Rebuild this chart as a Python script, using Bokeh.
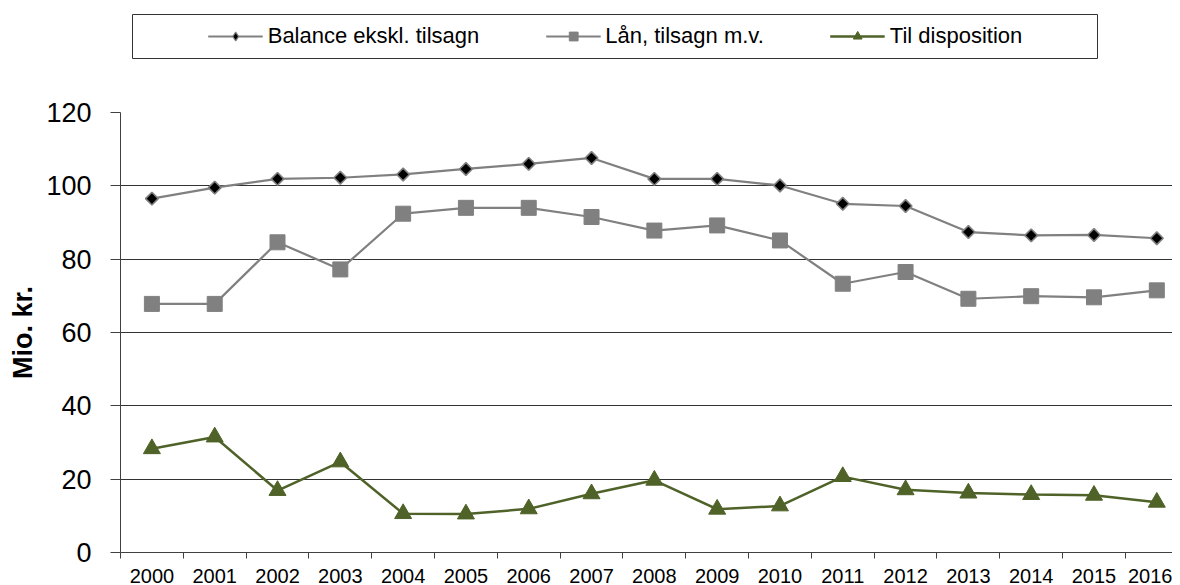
import numpy as np
from bokeh.plotting import figure
from bokeh.models import Range1d, FixedTicker, Legend, LegendItem, Grid, Spacer
from bokeh.layouts import column, row
from bokeh.embed import file_html
from bokeh.resources import INLINE

# ---- data ----
years = ["2000", "2001", "2002", "2003", "2004", "2005", "2006", "2007", "2008",
         "2009", "2010", "2011", "2012", "2013", "2014", "2015", "2016"]
balance = [96.5, 99.5, 101.9, 102.2, 103.1, 104.6, 106.0, 107.6, 101.9,
           101.9, 100.1, 95.1, 94.5, 87.4, 86.5, 86.6, 85.7]
laan = [67.8, 67.8, 84.6, 77.2, 92.4, 94.0, 94.0, 91.5, 87.8,
        89.2, 85.1, 73.3, 76.5, 69.2, 69.9, 69.6, 71.5]
til_disp = [28.3, 31.5, 16.9, 24.7, 10.6, 10.5, 11.9, 16.0, 19.7,
            11.8, 12.7, 20.7, 17.1, 16.2, 15.8, 15.6, 13.7]
series_names = ["Balance ekskl. tilsagn", "Lån, tilsagn m.v.", "Til disposition"]
y_ticks = [0, 20, 40, 60, 80, 100, 120]
y_title = "Mio. kr."

FONT = "Liberation Sans"
GRAY = "#808080"
OLIVE = "#4F6228"
AXIS = "#404040"

# category centres on a numeric scale (one unit per year)
xs = np.arange(len(years)) + 0.5
bounds = list(range(len(years) + 1))


def add_series(fig, x, for_legend=False):
    a = fig.line(x, balance, line_color=GRAY, line_width=2.2)
    if for_legend:
        b = fig.scatter(x, balance, marker="diamond", size=14,
                        fill_color="black", line_color=GRAY, line_width=1.2)
    else:
        b = fig.scatter(x, balance, marker="square", angle=np.pi / 4, size=9,
                        fill_color="black", line_color=GRAY, line_width=1.6)
    c = fig.line(x, laan, line_color=GRAY, line_width=2.2)
    d = fig.scatter(x, laan, marker="square", size=15, fill_color=GRAY, line_color=GRAY)
    e = fig.line(x, til_disp, line_color=OLIVE, line_width=2.5)
    f = fig.scatter(x, til_disp, marker="triangle", size=17, fill_color=OLIVE, line_color=OLIVE)
    return [(a, b), (c, d), (e, f)]


p = figure(frame_width=1052, frame_height=440,
           x_range=Range1d(0, 16.75), y_range=Range1d(0, 120),
           min_border_left=120, min_border_right=0, min_border_top=44, min_border_bottom=0,
           toolbar_location=None, output_backend="svg", outline_line_color=None,
           background_fill_color="white", border_fill_color="white")
add_series(p, xs)

# x axis: labels at centres, tick marks at category boundaries
xa = p.xaxis[0]
xa.ticker = FixedTicker(ticks=list(xs), minor_ticks=bounds)
xa.major_label_overrides = {float(x): y for x, y in zip(xs, years)}
xa.major_tick_out = 0
xa.major_tick_in = 0
xa.minor_tick_out = 6
xa.minor_tick_in = 0
xa.minor_tick_line_color = AXIS
xa.axis_line_color = AXIS
xa.major_label_text_font = FONT
xa.major_label_text_font_size = "20px"
xa.major_label_text_color = "black"
xa.major_label_standoff = 10

ya = p.yaxis[0]
ya.ticker = FixedTicker(ticks=y_ticks)
ya.major_tick_out = 10
ya.major_tick_in = 0
ya.minor_tick_line_color = None
ya.major_tick_line_color = AXIS
ya.axis_line_color = AXIS
ya.major_label_text_font = FONT
ya.major_label_text_font_size = "27px"
ya.major_label_text_color = "black"
ya.major_label_standoff = 19
ya.axis_label = y_title
ya.axis_label_text_font = FONT
ya.axis_label_text_font_size = "27px"
ya.axis_label_text_font_style = "bold"
ya.axis_label_text_color = "black"
ya.axis_label_standoff = 5

p.xgrid.visible = False
p.ygrid.ticker = FixedTicker(ticks=y_ticks[1:-1])
p.ygrid.grid_line_color = "#333333"
p.ygrid.grid_line_width = 1
p.add_layout(Grid(dimension=1, ticker=FixedTicker(ticks=y_ticks[-1:]),
                  grid_line_color="#c0c0c0", grid_line_width=1.5))

# ---- legend box on top (series drawn out of view, only the legend shows) ----
lf = figure(frame_width=966, frame_height=44, min_border_top=14, min_border_bottom=10,
            min_border_left=0, min_border_right=0, x_axis_type=None, y_axis_type=None,
            x_range=Range1d(-100, -99), y_range=Range1d(-100, -99),
            toolbar_location=None, output_backend="svg", outline_line_color="#333333",
            border_fill_color="white")
pairs = add_series(lf, xs, for_legend=True)

legend = Legend(items=[LegendItem(label=n, renderers=list(r)) for n, r in zip(series_names, pairs)],
                orientation="horizontal", location="center",
                border_line_color=None, background_fill_alpha=0,
                glyph_width=55, glyph_height=22, label_standoff=5, spacing=66,
                padding=0, margin=0,
                label_text_font=FONT, label_text_font_size="22px",
                label_text_color="black")
lf.add_layout(legend, "center")

layout = column(row(Spacer(width=132, height=68), lf), p)

open("out.html", "w").write(file_html(layout, INLINE))
